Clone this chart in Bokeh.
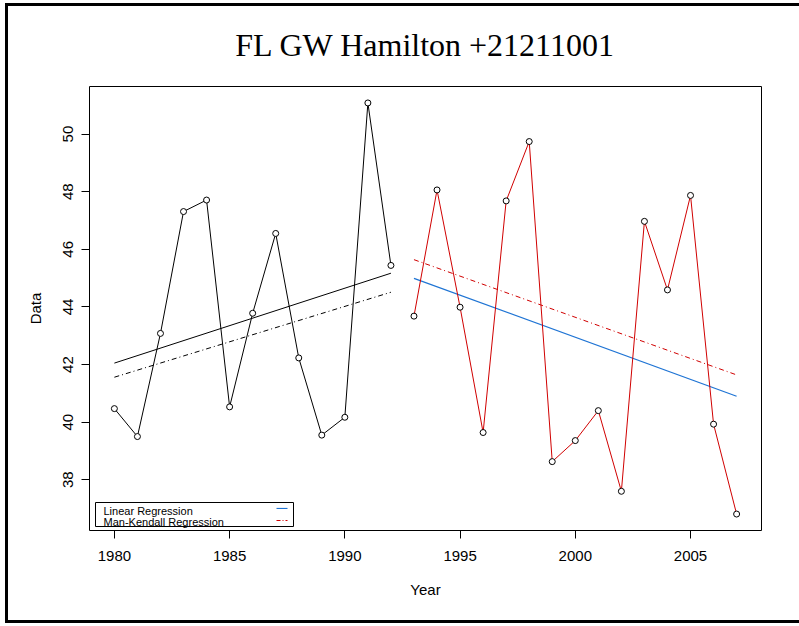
from bokeh.plotting import figure
from bokeh.models import FixedTicker, Label, BoxAnnotation, Range1d
from bokeh.embed import file_html
from bokeh.resources import INLINE

# ---- data ----
years_1 = [1980, 1981, 1982, 1983, 1984, 1985, 1986, 1987, 1988, 1989, 1990, 1991, 1992]
values_1 = [40.47, 39.50, 43.08, 47.31, 47.71, 40.53, 43.78, 46.55, 42.23, 39.55, 40.17, 51.08, 45.44]

years_2 = [1993, 1994, 1995, 1996, 1997, 1998, 1999, 2000, 2001, 2002, 2003, 2004, 2005, 2006, 2007]
values_2 = [43.68, 48.06, 43.99, 39.64, 47.68, 49.74, 38.63, 39.36, 40.40, 37.60, 46.97, 44.59, 47.87, 39.93, 36.81]

trend_years_1 = [1980, 1992]
linear_trend_1 = [42.05, 45.17]
mk_trend_1 = [41.56, 44.51]

trend_years_2 = [1993, 2007]
linear_trend_2 = [44.99, 40.90]
mk_trend_2 = [45.64, 41.64]

x_ticks = [1980, 1985, 1990, 1995, 2000, 2005]
y_ticks = [38, 40, 42, 44, 46, 48, 50]

title_text = "FL GW Hamilton +21211001"
x_label = "Year"
y_label = "Data"
legend_labels = ["Linear Regression", "Man-Kendall Regression"]

# ---- layout ----
W, H = 799, 623
FL, FR, FT, FB = 89, 761, 86, 530   # frame edges in page pixels
OX, OY = 0, 0                        # figure origin on the page

all_x = years_1 + years_2
all_y = values_1 + values_2
xpad = 0.04 * (max(all_x) - min(all_x))
ypad = 0.04 * (max(all_y) - min(all_y))
x0, x1 = min(all_x) - xpad, max(all_x) + xpad
y0, y1 = min(all_y) - ypad, max(all_y) + ypad


def sx(px):
    return x0 + (px - FL) / (FR - FL) * (x1 - x0)


def sy(py):
    return y1 - (py - FT) / (FB - FT) * (y1 - y0)


p = figure(width=W, height=H, x_range=Range1d(x0, x1), y_range=Range1d(y0, y1),
           output_backend="svg", toolbar_location=None,
           min_border_left=FL - OX, min_border_right=OX + W - FR,
           min_border_top=FT - OY, min_border_bottom=OY + H - FB)

# outer page frame (left, top, bottom rules) painted on the figure element itself
p.styles = {
    "background": ("linear-gradient(#000,#000) 5px 3px / 3px 620px no-repeat, "
                   "linear-gradient(#000,#000) 5px 3px / 794px 3px no-repeat, "
                   "linear-gradient(#000,#000) 5px 620px / 794px 3px no-repeat, "
                   "#fff"),
}

p.background_fill_color = "white"
p.border_fill_color = None
p.outline_line_color = "black"
p.outline_line_width = 1
p.outline_line_alpha = 1
p.xgrid.visible = False
p.ygrid.visible = False

p.title.text = title_text
p.title.align = "center"
p.title.text_font = "Liberation Serif"
p.title.text_font_size = "32px"
p.title.text_font_style = "normal"
p.title.text_color = "black"
p.title.standoff = 47

SANS = "Liberation Sans"
for ax in (p.xaxis[0], p.yaxis[0]):
    ax.axis_line_color = None
    ax.major_tick_line_color = "black"
    ax.major_tick_in = 0
    ax.major_tick_out = 8
    ax.minor_tick_line_color = None
    ax.major_label_text_font = SANS
    ax.major_label_text_font_size = "15px"
    ax.major_label_text_color = "black"
    ax.axis_label_text_font = SANS
    ax.axis_label_text_font_size = "15px"
    ax.axis_label_text_font_style = "normal"
    ax.axis_label_text_color = "black"

p.xaxis.ticker = FixedTicker(ticks=x_ticks)
p.yaxis.ticker = FixedTicker(ticks=y_ticks)
p.xaxis.axis_label = x_label
p.yaxis.axis_label = y_label
p.xaxis.major_label_standoff = 12
p.yaxis.major_label_standoff = 8
p.yaxis.major_label_orientation = "parallel"
p.xaxis.axis_label_standoff = 17
p.yaxis.axis_label_standoff = 17

BLUE = "#1f74d4"
RED = "#d00000"

# legend box (underneath the sample lines)
p.add_layout(BoxAnnotation(left=sx(95), right=sx(293), top=sy(502), bottom=sy(526),
                           fill_color="white", fill_alpha=1, line_color="black",
                           line_width=1, line_alpha=1, level="underlay"))

# trend lines
p.line(trend_years_1, linear_trend_1, line_color="black", line_width=1)
p.line(trend_years_1, mk_trend_1, line_color="black", line_width=1, line_dash="5 3 1 3")
p.line(trend_years_2, linear_trend_2, line_color=BLUE, line_width=1.2)
p.line(trend_years_2, mk_trend_2, line_color=RED, line_width=1, line_dash="5 3 1 3")

# data lines and points
p.line(years_1, values_1, line_color="black", line_width=1)
p.line(years_2, values_2, line_color=RED, line_width=1)
p.scatter(years_1, values_1, marker="circle", size=6, fill_color="white",
          line_color="black", line_width=1)
p.scatter(years_2, values_2, marker="circle", size=6, fill_color="white",
          line_color="black", line_width=1)

# legend (R style: text left, sample right)
p.add_layout(Label(x=sx(103), y=sy(510.5), text=legend_labels[0], text_baseline="middle",
                   text_font=SANS, text_font_size="11px", text_color="black"))
p.add_layout(Label(x=sx(103), y=sy(521.5), text=legend_labels[1], text_baseline="middle",
                   text_font=SANS, text_font_size="11px", text_color="black"))
p.line([sx(276), sx(287)], [sy(508), sy(508)], line_color=BLUE, line_width=1.2)
p.line([sx(276), sx(287)], [sy(520), sy(520)], line_color=RED, line_width=1, line_dash="4 2 1 2")

open("out.html", "w").write(file_html(p, INLINE))
